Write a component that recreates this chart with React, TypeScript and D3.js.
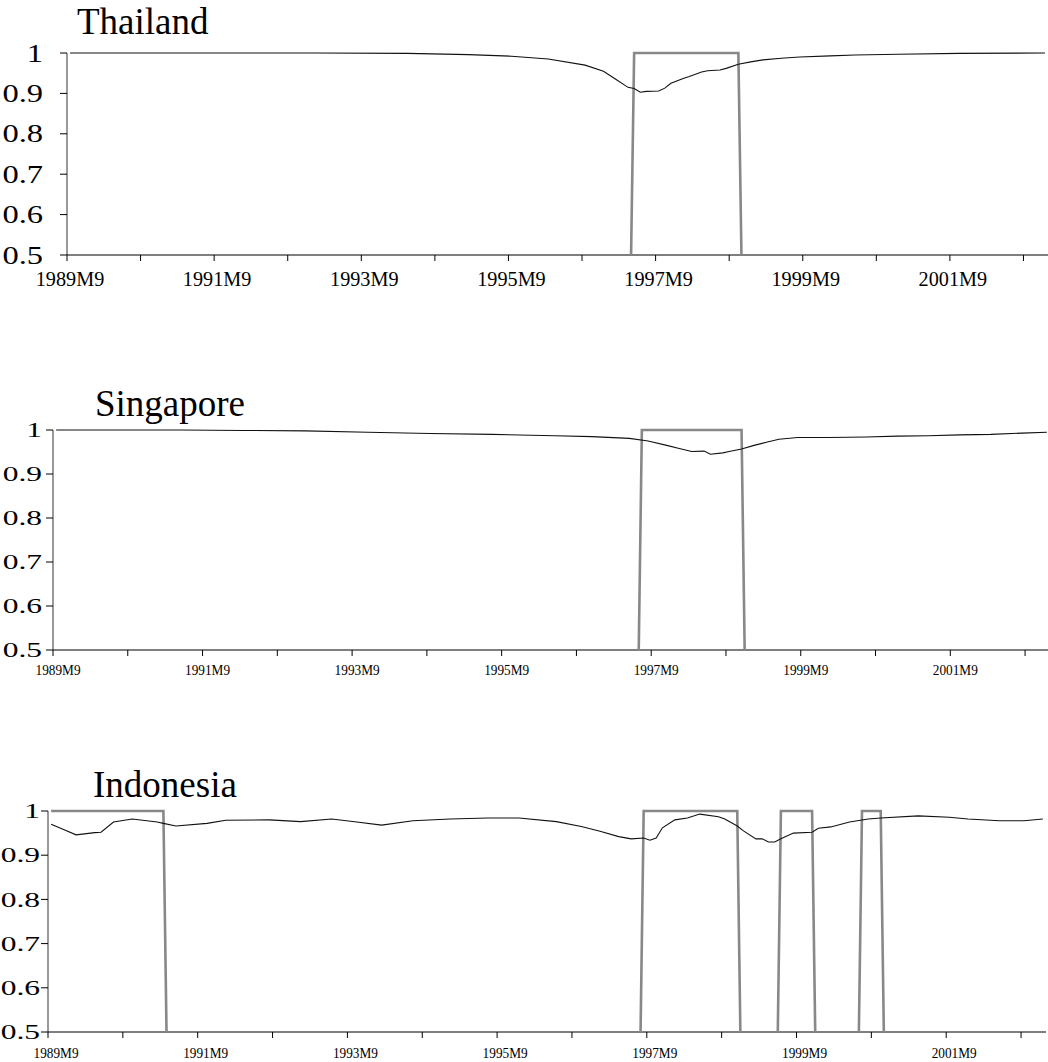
import React from "react";
import * as d3 from "d3";

// ---------- DATA ----------
// month index 0 = 1989M9, last = 159 (2002M12)
const N_MONTHS = 160;
const tickMonths = [0, 12, 24, 36, 48, 60, 72, 84, 96, 108, 120, 132, 144, 156];
const labelMonths = [0, 24, 48, 72, 96, 120, 144];
const xLabels = ["1989M9", "1991M9", "1993M9", "1995M9", "1997M9", "1999M9", "2001M9"];
const yTicks = [0.5, 0.6, 0.7, 0.8, 0.9, 1];
const yTickLabels = ["0.5", "0.6", "0.7", "0.8", "0.9", "1"];

const thaiMonths = [0, 40, 55, 65, 72, 78, 84, 87, 89, 91, 92, 93, 94, 96, 97, 98, 100, 101, 103, 104, 106, 107, 109, 111, 113, 116, 119, 124, 128, 135, 145, 159];
const thaiValues = [1.0, 1.0, 0.999, 0.996, 0.992, 0.985, 0.97, 0.955, 0.935, 0.915, 0.912, 0.903, 0.905, 0.906, 0.913, 0.925, 0.937, 0.942, 0.953, 0.956, 0.958, 0.962, 0.972, 0.978, 0.983, 0.987, 0.99, 0.993, 0.995, 0.997, 0.999, 1.0];
const thaiCrisis = [[92, 109]];

const singMonths = [0, 20, 30, 40, 50, 60, 70, 80, 86, 92, 95, 98, 100, 102, 104, 105, 107, 108, 110, 112, 114, 116, 119, 124, 130, 135, 140, 145, 150, 155, 159];
const singValues = [1.0, 1.0, 0.999, 0.998, 0.995, 0.992, 0.99, 0.987, 0.985, 0.981, 0.975, 0.965, 0.958, 0.951, 0.952, 0.945, 0.948, 0.951, 0.957, 0.965, 0.972, 0.979, 0.983, 0.983, 0.984, 0.986, 0.987, 0.989, 0.99, 0.993, 0.995];
const singCrisis = [[94, 110]];

const indoMonths = [0, 2, 4, 7, 8, 10, 13, 17, 18, 20, 25, 28, 35, 40, 45, 49, 53, 58, 64, 70, 75, 81, 85, 88, 91, 93, 95, 96, 97, 98, 100, 102, 104, 107, 108, 110, 111, 113, 114, 115, 116, 117, 119, 122, 123, 125, 128, 131, 133, 139, 144, 147, 152, 156, 159];
const indoValues = [0.97, 0.958, 0.946, 0.951, 0.952, 0.975, 0.982, 0.975, 0.972, 0.966, 0.972, 0.979, 0.98, 0.976, 0.982, 0.975, 0.968, 0.978, 0.982, 0.984, 0.984, 0.976, 0.965, 0.954, 0.942, 0.937, 0.939, 0.934, 0.939, 0.962, 0.98, 0.984, 0.993, 0.987, 0.982, 0.966, 0.955, 0.937, 0.937, 0.93, 0.93, 0.937, 0.95, 0.952, 0.961, 0.964, 0.975, 0.982, 0.984, 0.989, 0.986, 0.982, 0.978, 0.978, 0.982];
const indoCrisis = [[0, 18], [95, 110], [117, 122], [130, 133]];

// ---------- LAYOUT ----------
const FONT = "Liberation Serif, Times New Roman, serif";

type Panel = {
  title: string;
  months: number[];
  values: number[];
  crisis: number[][];
  left: number; right: number; y1: number; y05: number;
  titleX: number; titleY: number; titleSize: number;
  yLabSize: number; yLabSx: number; yLabRight: number;
  xLabSize: number; xLabSx: number; xLabY: number; xLabOff: number;
};

const panels: Panel[] = [
  {
    title: "Thailand", months: thaiMonths, values: thaiValues, crisis: thaiCrisis,
    left: 67, right: 1048, y1: 53, y05: 255,
    titleX: 77, titleY: 34, titleSize: 37,
    yLabSize: 25, yLabSx: 1.3, yLabRight: 43,
    xLabSize: 22, xLabSx: 0.92, xLabY: 286, xLabOff: 3,
  },
  {
    title: "Singapore", months: singMonths, values: singValues, crisis: singCrisis,
    left: 53, right: 1050, y1: 430, y05: 650,
    titleX: 95, titleY: 416, titleSize: 37,
    yLabSize: 21, yLabSx: 1.5, yLabRight: 42,
    xLabSize: 14, xLabSx: 0.95, xLabY: 675, xLabOff: 5,
  },
  {
    title: "Indonesia", months: indoMonths, values: indoValues, crisis: indoCrisis,
    left: 48, right: 1046, y1: 811, y05: 1032,
    titleX: 93, titleY: 797, titleSize: 37,
    yLabSize: 21, yLabSx: 1.5, yLabRight: 40,
    xLabSize: 14, xLabSx: 0.95, xLabY: 1058, xLabOff: 8,
  },
];

function PanelView({ p, idx }: { p: Panel; idx: number }) {
  const x = d3.scaleLinear().domain([0, N_MONTHS]).range([p.left, p.right]);
  const y = d3.scaleLinear().domain([0.5, 1]).range([p.y05, p.y1]);
  const line = d3.line<[number, number]>().x((d) => x(d[0] + 0.5)).y((d) => y(d[1]));
  const dataPts: [number, number][] = p.months.map((m, i) => [m, p.values[i]]);
  const crisisPaths = p.crisis.map(([s, e]) => {
    const pts: [number, number][] = [];
    if (s > 0) pts.push([s - 1, 0]);
    pts.push([s, 1], [e, 1]);
    if (e < N_MONTHS - 1) pts.push([e + 1, 0]);
    return line(pts) as string;
  });
  const clipId = `clip${idx}`;
  return (
    <g>
      <defs>
        <clipPath id={clipId}>
          <rect x={p.left} y={p.y1 - 10} width={p.right - p.left} height={p.y05 - p.y1 + 10} />
        </clipPath>
      </defs>
      <text transform={`translate(${p.titleX},${p.titleY})`} style={{ fontFamily: FONT }} fontSize={p.titleSize} fill="#000">
        {p.title}
      </text>
      {/* y axis */}
      <line x1={p.left} x2={p.left} y1={p.y1} y2={p.y05} stroke="#555" strokeWidth={1.2} />
      {yTicks.map((t, i) => (
        <g key={t}>
          <line x1={p.left - 7} x2={p.left} y1={y(t)} y2={y(t)} stroke="#000" strokeWidth={1} />
          <text
            transform={`translate(${p.yLabRight},${y(t) + p.yLabSize * 0.34}) scale(${p.yLabSx},1)`}
            textAnchor="end" style={{ fontFamily: FONT }} fontSize={p.yLabSize} fill="#000"
          >
            {yTickLabels[i]}
          </text>
        </g>
      ))}
      {/* x axis */}
      <line x1={p.left} x2={p.right} y1={p.y05} y2={p.y05} stroke="#000" strokeWidth={1.2} />
      {tickMonths.map((m) => (
        <line key={m} x1={x(m)} x2={x(m)} y1={p.y05} y2={p.y05 + 6} stroke="#000" strokeWidth={1} />
      ))}
      {labelMonths.map((m, i) => (
        <text key={m}
          transform={`translate(${x(m) + p.xLabOff},${p.xLabY}) scale(${p.xLabSx},1)`}
          textAnchor="middle" style={{ fontFamily: FONT }} fontSize={p.xLabSize} fill="#000"
        >
          {xLabels[i]}
        </text>
      ))}
      <g clipPath={`url(#${clipId})`}>
        {crisisPaths.map((d, i) => (
          <path key={i} d={d} fill="none" stroke="#888" strokeWidth={2.6} />
        ))}
        <path d={line(dataPts) as string} fill="none" stroke="#111" strokeWidth={1.1} />
      </g>
    </g>
  );
}

export default function App() {
  return (
    <svg width={1048} height={1062} style={{ position: "absolute", left: 0, top: 0, background: "#fff" }}>
      <rect x={0} y={0} width={1048} height={1062} fill="#fff" />
      {panels.map((p, i) => (
        <PanelView key={i} p={p} idx={i} />
      ))}
    </svg>
  );
}
